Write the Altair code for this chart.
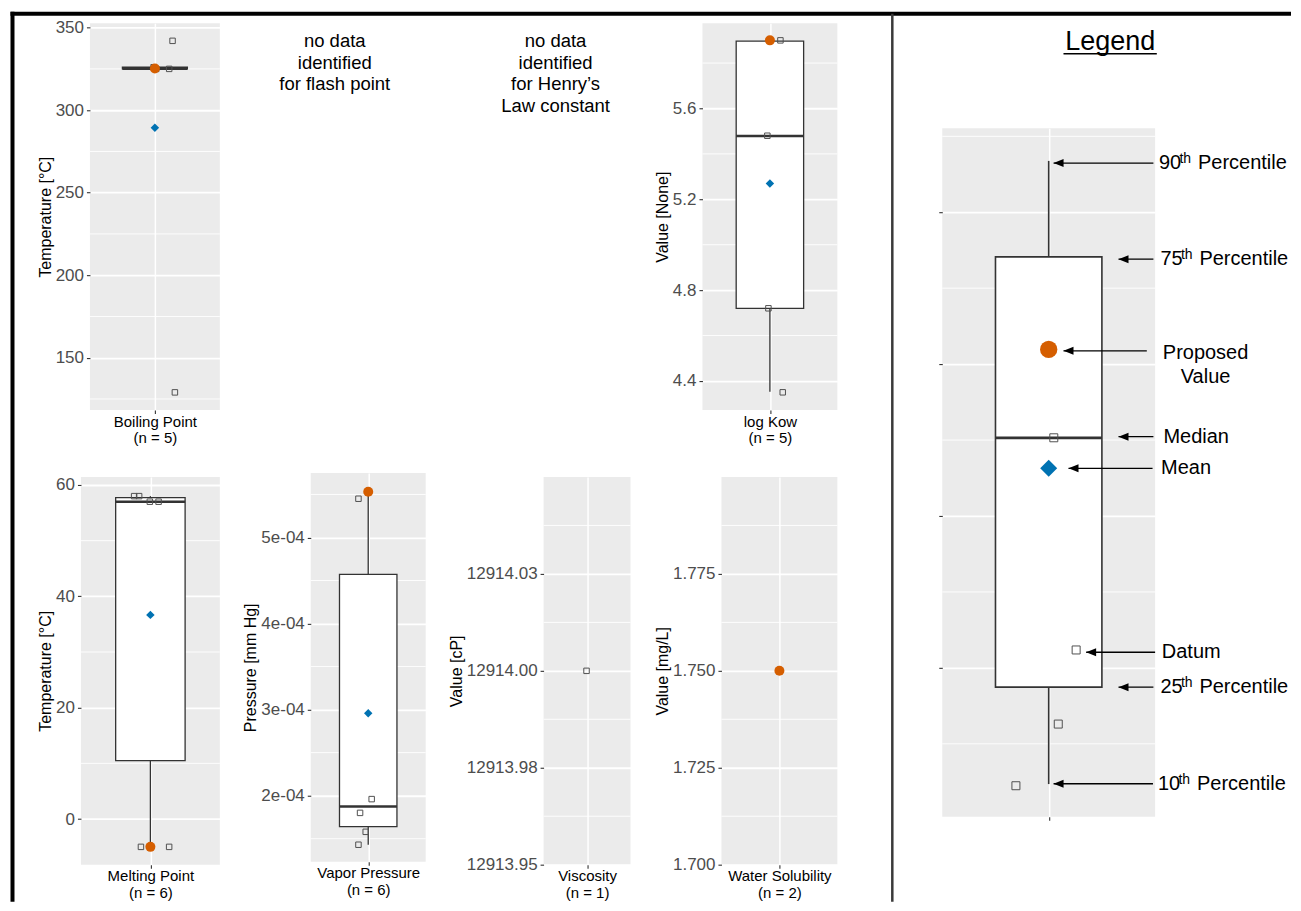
import altair as alt
import pandas as pd

FONT = "Liberation Sans"

# ---------------- data ----------------
# Boiling Point (n = 5)
BP_VALUES = [342, 326, 325, 325, 129]
BP_JITTER = [0.636, 0.49, 0.610, 0.51, 0.654]
BP_BOX = [325, 325, 325, 326, 326]          # p10, p25, p50, p75, p90 as drawn
BP_MEAN = [289.4]
BP_PROPOSED = [325.2]
BP_DOMAIN = [118.3, 352.6]
BP_TICKS = [150, 200, 250, 300, 350]
BP_TICK_LABELS = ["150", "200", "250", "300", "350"]
BP_MINOR = [125, 175, 225, 275, 325]

# log Kow (n = 5)
KOW_VALUES = [5.9, 5.9, 5.48, 4.72, 4.35]
KOW_JITTER = [0.5, 0.578, 0.481, 0.489, 0.595]
KOW_BOX = [4.353, 4.72, 5.479, 5.897, 5.897]
KOW_MEAN = [5.27]
KOW_PROPOSED = [5.9]
KOW_DOMAIN = [4.272, 5.975]
KOW_TICKS = [4.4, 4.8, 5.2, 5.6]
KOW_TICK_LABELS = ["4.4", "4.8", "5.2", "5.6"]
KOW_MINOR = [4.6, 5.0, 5.4, 5.8]

# Melting Point (n = 6)
MP_VALUES = [58, 58, 57, 57, -5, -5]
MP_JITTER = [0.383, 0.419, 0.496, 0.559, 0.432, 0.635]
MP_BOX = [-5, 10.5, 57, 57.75, 58]
MP_MEAN = [36.67]
MP_PROPOSED = [-5]
MP_DOMAIN = [-8.2, 61.44]
MP_TICKS = [0, 20, 40, 60]
MP_TICK_LABELS = ["0", "20", "40", "60"]
MP_MINOR = [10, 30, 50]

# Vapor Pressure (n = 6)
VP_VALUES = [5.53e-4, 5.45e-4, 1.96e-4, 1.80e-4, 1.58e-4, 1.43e-4]
VP_JITTER = [0.5, 0.415, 0.530, 0.429, 0.478, 0.415]
VP_BOX = [1.43e-4, 1.64e-4, 1.875e-4, 4.57e-4, 5.53e-4]
VP_MEAN = [2.958e-4]
VP_PROPOSED = [5.53e-4]
VP_DOMAIN = [1.233e-4, 5.749e-4]
VP_TICKS = [2e-4, 3e-4, 4e-4, 5e-4]
VP_TICK_LABELS = ["2e-04", "3e-04", "4e-04", "5e-04"]
VP_MINOR = [1.5e-4, 2.5e-4, 3.5e-4, 4.5e-4, 5.5e-4]

# Viscosity (n = 1)
VI_VALUES = [12914.0]
VI_JITTER = [0.494]
VI_DOMAIN = [12913.95, 12914.05]
VI_TICKS = [12913.95, 12913.975, 12914.0, 12914.025]
VI_TICK_LABELS = ["12913.95", "12913.98", "12914.00", "12914.03"]
VI_MINOR = [12913.9625, 12913.9875, 12914.0125, 12914.0375]

# Water Solubility (n = 2)
WS_VALUES = [1.75, 1.75]
WS_JITTER = [0.5, 0.5]
WS_MEAN = [1.75]
WS_PROPOSED = [1.75]
WS_DOMAIN = [1.70, 1.80]
WS_TICKS = [1.700, 1.725, 1.750, 1.775]
WS_TICK_LABELS = ["1.700", "1.725", "1.750", "1.775"]
WS_MINOR = [1.7125, 1.7375, 1.7625, 1.7875]

# Legend example box
LG_VALUES = [2.515, 1.118, 0.630, 0.224]
LG_JITTER = [0.524, 0.629, 0.545, 0.346]
LG_BOX = [0.235, 0.873, 2.515, 3.706, 4.338]
LG_MEAN = [2.314]
LG_PROPOSED = [3.097]
LG_DOMAIN = [0.020, 4.553]
LG_TICKS = [1, 2, 3, 4]
LG_MINOR = [0.5, 1.5, 2.5, 3.5, 4.5]

# Legend annotations (in the legend panel's own units)
LG_ARROW_Y = [4.324, 3.691, 3.0875, 2.522, 2.314, 1.103, 0.873, 0.237]
LG_ARROW_TAIL = [0.992, 0.992, 0.961, 0.992, 0.988, 1.0, 0.992, 0.990]
LG_ARROW_TIP = [0.523, 0.828, 0.5695, 0.828, 0.593, 0.676, 0.828, 0.523]
LG_LABELS = ["Median", "Mean", "Datum"]
LG_LABEL_X = [1.039, 1.028, 1.0315]
LG_LABEL_Y = [2.522, 2.314, 1.103]
PCT_NUMBERS = ["90", "75", "25", "10"]
PCT_X = [1.0183, 1.0249, 1.0249, 1.0136]
PCT_Y = [4.324, 3.691, 0.873, 0.237]
PROP_LINES = ["Proposed", "Value"]
PROP_X = [1.237, 1.237]
PROP_Y = [3.070, 2.916]
LEGEND_TITLE = ["Legend"]
LEGEND_TITLE_X = [0.789]
LEGEND_TITLE_Y = [5.120]
LEGEND_UNDERLINE = [0.5695, 1.008]
LEGEND_UNDERLINE_Y = [5.044]

FLASH_LINES = ["no data", "identified", "for flash point"]
HENRY_LINES = ["no data", "identified", "for Henry\u2019s", "Law constant"]

# ---------------- styling constants ----------------
BOX_L, BOX_R, CENTER = 0.25, 0.75, 0.5
ORANGE = "#D55E00"
BLUE = "#0072B2"
PANEL_BG = "#EBEBEB"
DARK = "#333333"
TOP_Y = 5.3
LEFT_X = 3.5
DIV_X = 884
FRAME_W = 1283
FRAME_H = 894


def label_expr(ticks, labels):
    step = (max(ticks) - min(ticks)) / max(len(ticks) - 1, 1)
    tol = step / 4.0
    expr = "''"
    for v, s in reversed(list(zip(ticks, labels))):
        expr = f"abs(datum.value - ({v!r})) < {tol!r} ? '{s}' : ({expr})"
    return expr


def spacer(w, h):
    return alt.Chart(pd.DataFrame({"k": [0]})).mark_rule(opacity=0).encode(
        x=alt.value(0.5), y=alt.value(0.5), y2=alt.value(0.5)
    ).properties(width=w, height=h)


def text_panel(w, h, lines):
    df = pd.DataFrame({"t": ["\n".join(lines)]})
    return alt.Chart(df).mark_text(
        lineBreak="\n", align="center", baseline="alphabetic", fontSize=18.5,
        lineHeight=21.7, color="black", font=FONT
    ).encode(text="t:N", x=alt.value(w / 2), y=alt.value(23.7)).properties(width=w, height=h)


def box_panel(w, h, domain, ticks, tick_labels, minor, values, jitter, box=None,
              mean=None, proposed=None, ytitle=None, xtitle=None,
              sizes=(30, 72, 100), box_stroke=1.3, median_stroke=2.4, show_labels=True):
    ys = alt.Scale(domain=domain, nice=False, zero=False)
    xs = alt.Scale(domain=[0, 1], nice=False, zero=False)
    yk = dict(values=ticks, labels=show_labels, labelFontSize=17, labelColor="#4D4D4D",
              labelPadding=3, labelFlush=False, labelOverlap=False, tickSize=3.5,
              tickColor=DARK, tickWidth=1.1, domain=False, grid=True, gridColor="white",
              gridWidth=1.8, titleFontSize=16, titleFontWeight="normal", titleColor="black",
              titlePadding=2, title=ytitle)
    if show_labels:
        yk["labelExpr"] = label_expr(ticks, tick_labels)
    yaxis = alt.Axis(**yk)
    xaxis = alt.Axis(values=[CENTER], labels=False, domain=False, tickSize=3.5,
                     tickColor=DARK, tickWidth=1.1, grid=True, gridColor="white",
                     gridWidth=1.5, title=xtitle, titleFontSize=15,
                     titleFontWeight="normal", titleColor="black", titlePadding=0,
                     titleLineHeight=16.5)

    def X(f):
        return alt.X(f, type="quantitative", scale=xs, axis=xaxis)

    def Y(f):
        return alt.Y(f, type="quantitative", scale=ys, axis=yaxis)

    layers = [alt.Chart(pd.DataFrame({"v": minor})).mark_rule(
        color="white", strokeWidth=0.9).encode(y=Y("v"))]
    if box is not None:
        bdf = pd.DataFrame({"x0": [BOX_L], "x1": [BOX_R], "xc": [CENTER],
                            "lo": [box[0]], "q1": [box[1]], "med": [box[2]],
                            "q3": [box[3]], "hi": [box[4]]})
        bc = alt.Chart(bdf)
        layers.append(bc.mark_rule(color=DARK, strokeWidth=box_stroke).encode(
            x=X("xc"), y=Y("lo"), y2="q1"))
        layers.append(bc.mark_rule(color=DARK, strokeWidth=box_stroke).encode(
            x=X("xc"), y=Y("q3"), y2="hi"))
        layers.append(bc.mark_rect(fill="white", stroke=DARK, strokeWidth=box_stroke).encode(
            x=X("x0"), x2="x1", y=Y("q1"), y2="q3"))
        layers.append(bc.mark_rule(color=DARK, strokeWidth=median_stroke).encode(
            x=X("x0"), x2="x1", y=Y("med")))
    pts = pd.DataFrame({"x": jitter, "v": values})
    layers.append(alt.Chart(pts).mark_point(
        shape="square", filled=False, size=sizes[0], color="#505050", strokeWidth=1,
        opacity=1).encode(x=X("x"), y=Y("v")))
    if mean is not None:
        layers.append(alt.Chart(pd.DataFrame({"x": [CENTER] * len(mean), "v": mean})).mark_point(
            shape="diamond", filled=True, size=sizes[1], color=BLUE, opacity=1
        ).encode(x=X("x"), y=Y("v")))
    if proposed is not None:
        layers.append(alt.Chart(pd.DataFrame({"x": [CENTER] * len(proposed), "v": proposed})).mark_point(
            shape="circle", filled=True, size=sizes[2], color=ORANGE, opacity=1
        ).encode(x=X("x"), y=Y("v")))
    return layers, X, Y


def finish(layers, w, h):
    return alt.layer(*layers).properties(
        width=w, height=h, view=alt.ViewBackground(fill=PANEL_BG, strokeWidth=0))


# ---------------- panels ----------------
bp_layers, _, _ = box_panel(130, 387, BP_DOMAIN, BP_TICKS, BP_TICK_LABELS, BP_MINOR,
                            BP_VALUES, BP_JITTER, BP_BOX, BP_MEAN, BP_PROPOSED,
                            "Temperature [\u00b0C]", ["Boiling Point", "(n = 5)"])
bp = finish(bp_layers, 130, 387)

kow_layers, _, _ = box_panel(135, 387, KOW_DOMAIN, KOW_TICKS, KOW_TICK_LABELS, KOW_MINOR,
                             KOW_VALUES, KOW_JITTER, KOW_BOX, KOW_MEAN, KOW_PROPOSED,
                             "Value [None]", ["log Kow", "(n = 5)"])
kow = finish(kow_layers, 135, 387)

mp_layers, _, _ = box_panel(139, 388, MP_DOMAIN, MP_TICKS, MP_TICK_LABELS, MP_MINOR,
                            MP_VALUES, MP_JITTER, MP_BOX, MP_MEAN, MP_PROPOSED,
                            "Temperature [\u00b0C]", ["Melting Point", "(n = 6)"])
mp = finish(mp_layers, 139, 388)

vp_layers, _, _ = box_panel(115, 389, VP_DOMAIN, VP_TICKS, VP_TICK_LABELS, VP_MINOR,
                            VP_VALUES, VP_JITTER, VP_BOX, VP_MEAN, VP_PROPOSED,
                            "Pressure [mm Hg]", ["Vapor Pressure", "(n = 6)"])
vp = finish(vp_layers, 115, 389)

vi_layers, _, _ = box_panel(87, 388, VI_DOMAIN, VI_TICKS, VI_TICK_LABELS, VI_MINOR,
                            VI_VALUES, VI_JITTER, None, None, None,
                            "Value [cP]", ["Viscosity", "(n = 1)"])
vi = finish(vi_layers, 87, 388)

ws_layers, _, _ = box_panel(116, 388, WS_DOMAIN, WS_TICKS, WS_TICK_LABELS, WS_MINOR,
                            WS_VALUES, WS_JITTER, None, WS_MEAN, WS_PROPOSED,
                            "Value [mg/L]", ["Water Solubility", "(n = 2)"])
ws = finish(ws_layers, 116, 388)

lg_layers, LX, LY = box_panel(213, 689, LG_DOMAIN, LG_TICKS, None, LG_MINOR,
                              LG_VALUES, LG_JITTER, LG_BOX, LG_MEAN, LG_PROPOSED,
                              None, None, sizes=(64, 289, 300), box_stroke=1.6,
                              median_stroke=2.8, show_labels=False)
arrows = pd.DataFrame({"y": LG_ARROW_Y, "tail": LG_ARROW_TAIL, "tip": LG_ARROW_TIP})
lg_layers.append(alt.Chart(arrows).mark_rule(color="black", strokeWidth=1.3).encode(
    x=LX("tip"), x2="tail", y=LY("y")))
lg_layers.append(alt.Chart(arrows).mark_point(
    shape="M-1,0L1,-0.8L1,0.8Z", filled=True, size=100, color="black", opacity=1,
    xOffset=5).encode(x=LX("tip"), y=LY("y")))
labs = pd.DataFrame({"t": LG_LABELS, "x": LG_LABEL_X, "y": LG_LABEL_Y})
lg_layers.append(alt.Chart(labs).mark_text(
    align="left", baseline="middle", fontSize=20, color="black", font=FONT
).encode(x=LX("x"), y=LY("y"), text="t:N"))
pct = pd.DataFrame({"t": PCT_NUMBERS, "x": PCT_X, "y": PCT_Y})
lg_layers.append(alt.Chart(pct).mark_text(
    align="left", baseline="middle", fontSize=20, color="black", font=FONT
).encode(x=LX("x"), y=LY("y"), text="t:N"))
lg_layers.append(alt.Chart(pct).mark_text(
    align="left", baseline="middle", fontSize=14, color="black", font=FONT, dx=20.5, dy=-4
).encode(x=LX("x"), y=LY("y"), text=alt.value("th")))
lg_layers.append(alt.Chart(pct).mark_text(
    align="left", baseline="middle", fontSize=20, color="black", font=FONT, dx=39
).encode(x=LX("x"), y=LY("y"), text=alt.value("Percentile")))
prop = pd.DataFrame({"t": PROP_LINES, "x": PROP_X, "y": PROP_Y})
lg_layers.append(alt.Chart(prop).mark_text(
    align="center", baseline="middle", fontSize=20, color="black", font=FONT
).encode(x=LX("x"), y=LY("y"), text="t:N"))
ttl = pd.DataFrame({"t": LEGEND_TITLE, "x": LEGEND_TITLE_X, "y": LEGEND_TITLE_Y})
lg_layers.append(alt.Chart(ttl).mark_text(
    align="center", baseline="middle", fontSize=27, color="black", font=FONT
).encode(x=LX("x"), y=LY("y"), text="t:N"))
ul = pd.DataFrame({"x0": [LEGEND_UNDERLINE[0]], "x1": [LEGEND_UNDERLINE[1]], "y": LEGEND_UNDERLINE_Y})
lg_layers.append(alt.Chart(ul).mark_rule(color="black", strokeWidth=1.5).encode(
    x=LX("x0"), x2="x1", y=LY("y")))
legend = finish(lg_layers, 213, 689)

flash = text_panel(160, 387, FLASH_LINES)
henry = text_panel(160, 387, HENRY_LINES)

# ---------------- frame (top rule, left rule, divider) ----------------
fbase = alt.Chart(pd.DataFrame({"k": [0]}))
frame = alt.layer(
    fbase.mark_rule(color="black", strokeWidth=4).encode(
        x=alt.value(1.5), x2=alt.value(FRAME_W), y=alt.value(TOP_Y)),
    fbase.mark_rule(color="black", strokeWidth=4).encode(
        x=alt.value(LEFT_X), y=alt.value(TOP_Y - 2), y2=alt.value(FRAME_H)),
    fbase.mark_rule(color="#3a3a3a", strokeWidth=2.5).encode(
        x=alt.value(DIV_X), y=alt.value(TOP_Y), y2=alt.value(FRAME_H)),
).properties(width=FRAME_W, height=FRAME_H)


def nest_v(*charts):
    # nested block: takes no room in the parent flush layout
    return alt.vconcat(*charts, spacing=0, bounds="flush")


def row(*charts):
    return alt.hconcat(*charts, spacing=0, bounds="flush")


row_a = row(spacer(81, 1), bp, spacer(35, 1), flash, spacer(61, 1), henry,
            spacer(67, 1), kow, spacer(105, 1), nest_v(spacer(1, 105), legend))

row_b = row(spacer(72, 1), nest_v(spacer(1, 4), mp), spacer(230, 1), vp,
            spacer(118, 1), nest_v(spacer(1, 4), vi), spacer(178, 1),
            nest_v(spacer(1, 4), ws))

chart = alt.vconcat(
    row(frame), spacer(1, 15), row_a, spacer(1, 450), row_b,
    spacing=0, bounds="flush"
).properties(padding=0).configure(font=FONT).configure_view(strokeWidth=0)

chart.save("out.html", embed_options={"renderer": "svg", "actions": False})
